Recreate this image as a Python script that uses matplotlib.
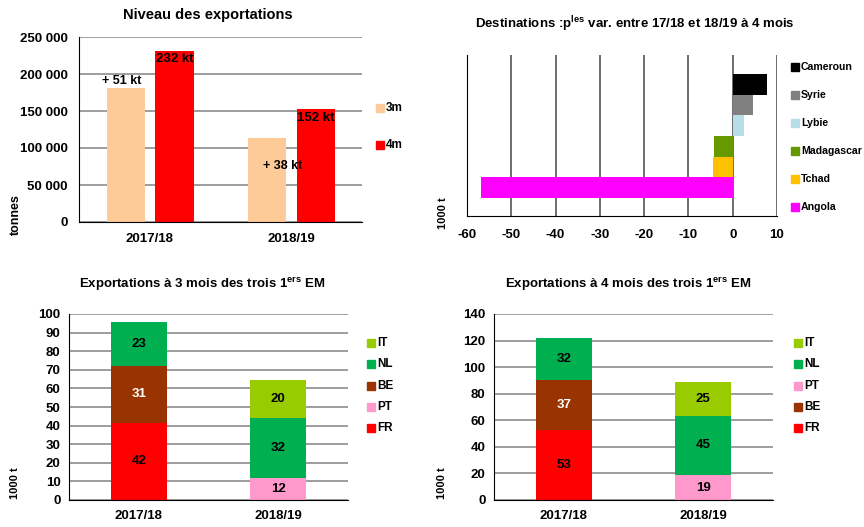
import matplotlib
matplotlib.use("Agg")
import matplotlib.pyplot as plt
from matplotlib.patches import Rectangle
from matplotlib.ticker import FuncFormatter
import numpy as np

plt.rcParams["font.family"] = ["Liberation Sans", "DejaVu Sans"]
plt.rcParams["font.weight"] = "bold"
plt.rcParams["font.size"] = 9.5
plt.rcParams["axes.unicode_minus"] = False
plt.rcParams["mathtext.fontset"] = "custom"
plt.rcParams["mathtext.rm"] = "Liberation Sans"
plt.rcParams["mathtext.bf"] = "Liberation Sans:bold"

W, H = 864, 527
GRID = "#8c8c8c"

# --- data ---
years = ["2017/18", "2018/19"]
export_3m = [180500, 113900]
export_4m = [231700, 152100]

dest_names = ["Angola", "Tchad", "Madagascar", "Lybie", "Syrie", "Cameroun"]
dest_var = [-56.9, -4.4, -4.2, 2.5, 4.6, 7.8]
dest_colors = ["#ff00ff", "#ffc000", "#669900", "#b7dee8", "#808080", "#000000"]

em3_names = ["FR", "PT", "BE", "NL", "IT"]
em3_values = [[41.6, 0], [0, 11.7], [30.7, 0], [23.3, 32.2], [0, 20.4]]
em3_colors = ["#ff0000", "#ff99cc", "#993300", "#00b050", "#99cc00"]

em4_names = ["FR", "BE", "PT", "NL", "IT"]
em4_values = [[53.0, 0], [37.4, 0], [0, 18.8], [31.6, 44.8], [0, 25.4]]
em4_colors = ["#ff0000", "#993300", "#ff99cc", "#00b050", "#99cc00"]


def add_axes_px(fig, left, top, right, bottom):
    return fig.add_axes([left / W, 1 - bottom / H, (right - left) / W, (bottom - top) / H])


def side_legend(fig, x, y0, step, labels, colors, size=8.5):
    for i, (lab, c) in enumerate(zip(labels, colors)):
        y = y0 + i * step
        fig.add_artist(Rectangle((x / W, 1 - (y + 4) / H), 8 / W, 8 / H,
                                 transform=fig.transFigure, color=c))
        fig.text((x + 10) / W, 1 - y / H, lab, va="center", ha="left", fontsize=size)


def style_hbar_axes(ax):
    ax.set_axisbelow(True)
    ax.yaxis.grid(True, color=GRID, linewidth=1.2)
    for s in ["top", "right"]:
        ax.spines[s].set_visible(False)
    ax.spines["left"].set_color("black")
    ax.spines["bottom"].set_color("black")
    ax.tick_params(length=0)


def stacked(ax, names, values, colors, ymax, step):
    x = np.arange(len(years))
    bottom = np.zeros(len(years))
    for name, vals, c in zip(names, values, colors):
        vals = np.array(vals, dtype=float)
        ax.bar(x, vals, 0.40, bottom=bottom, color=c)
        for xi, v, b in zip(x, vals, bottom):
            if v > 0:
                tc = "white" if c == "#993300" else "black"
                ax.text(xi, b + v / 2, f"{v:.0f}", ha="center", va="center",
                        color=tc, fontsize=9.5)
        bottom += vals
    ax.set_xlim(-0.5, 1.5)
    ax.set_ylim(0, ymax)
    ax.set_yticks(np.arange(0, ymax + 1, step))
    ax.set_xticks(x)
    ax.set_xticklabels(years)
    style_hbar_axes(ax)
    ax.tick_params(axis="y", pad=6)
    ax.tick_params(axis="x", pad=7)


fig = plt.figure(figsize=(W / 100, H / 100), dpi=100)

# --- top left: niveau des exportations ---
ax1 = add_axes_px(fig, 79, 37, 362, 222)
x = np.arange(len(years))
ax1.bar(x - 0.17, export_3m, 0.27, color="#fdca98")
ax1.bar(x + 0.175, export_4m, 0.27, color="#ff0000")
ax1.set_xlim(-0.5, 1.5)
ax1.set_ylim(0, 250000)
ax1.set_yticks(np.arange(0, 250001, 50000))
ax1.yaxis.set_major_formatter(FuncFormatter(lambda v, p: f"{v:,.0f}".replace(",", " ")))
ax1.set_xticks(x)
ax1.set_xticklabels(years)
style_hbar_axes(ax1)
ax1.tick_params(axis="y", pad=8)
ax1.tick_params(axis="x", pad=8)
for xi, v3, v4 in zip(x, export_3m, export_4m):
    ax1.text(xi + 0.175, v4 - 3000, f"{round(v4 / 1000)} kt", ha="center", va="top", fontsize=9.5)
ax1.text(x[0] - 0.2, export_3m[0] + 2500, f"+ {round((export_4m[0] - export_3m[0]) / 1000)} kt",
         ha="center", va="bottom", fontsize=9)
ax1.text(x[1] - 0.06, export_3m[1] * 0.67, f"+ {round((export_4m[1] - export_3m[1]) / 1000)} kt",
         ha="center", va="center", fontsize=9)
fig.text(208 / W, 1 - 15 / H, "Niveau des exportations", ha="center", va="center", fontsize=10.5)
fig.text(16 / W, 1 - 215 / H, "tonnes", rotation=90, ha="center", va="center", fontsize=9)
side_legend(fig, 376, 108, 37, ["3m", "4m"], ["#fdca98", "#ff0000"])

# --- top right: destinations ---
ax2 = add_axes_px(fig, 467, 55, 777, 216)
pos = np.arange(len(dest_names))
ax2.barh(pos, dest_var, 1.0, color=dest_colors)
ax2.set_xlim(-60, 10)
ax2.set_ylim(-1.37, 6.42)
ax2.set_xticks(np.arange(-60, 11, 10))
ax2.set_yticks([])
ax2.set_axisbelow(True)
ax2.xaxis.grid(True, color="#555555", linewidth=1.2)
for s in ["top", "right"]:
    ax2.spines[s].set_visible(False)
ax2.tick_params(length=0, pad=9)
fig.text(635 / W, 1 - 24 / H,
         r"Destinations :p$^{\mathrm{les}}$ var. entre 17/18 et 18/19 à 4 mois",
         ha="center", va="center", fontsize=9.5)
fig.text(443 / W, 1 - 213 / H, "1000 t", rotation=90, ha="center", va="center", fontsize=8)
side_legend(fig, 791, 67, 28, dest_names[::-1], dest_colors[::-1], size=7.6)

# --- bottom left: 3 mois ---
ax3 = add_axes_px(fig, 69, 314, 348, 500)
stacked(ax3, em3_names, em3_values, em3_colors, 100, 10)
fig.text(202 / W, 1 - 284 / H, r"Exportations à 3 mois des trois 1$^{\mathrm{ers}}$ EM",
         ha="center", va="center", fontsize=9.5)
fig.text(15 / W, 1 - 483 / H, "1000 t", rotation=90, ha="center", va="center", fontsize=8)
side_legend(fig, 367, 343, 21.3, em3_names[::-1], em3_colors[::-1], size=8.5)

# --- bottom right: 4 mois ---
ax4 = add_axes_px(fig, 494, 314, 773, 500)
stacked(ax4, em4_names, em4_values, em4_colors, 140, 20)
fig.text(628 / W, 1 - 284 / H, r"Exportations à 4 mois des trois 1$^{\mathrm{ers}}$ EM",
         ha="center", va="center", fontsize=9.5)
fig.text(442 / W, 1 - 483 / H, "1000 t", rotation=90, ha="center", va="center", fontsize=8)
side_legend(fig, 794, 343, 21.3, em4_names[::-1], em4_colors[::-1], size=8.5)

fig.savefig("out.png", dpi=100)
